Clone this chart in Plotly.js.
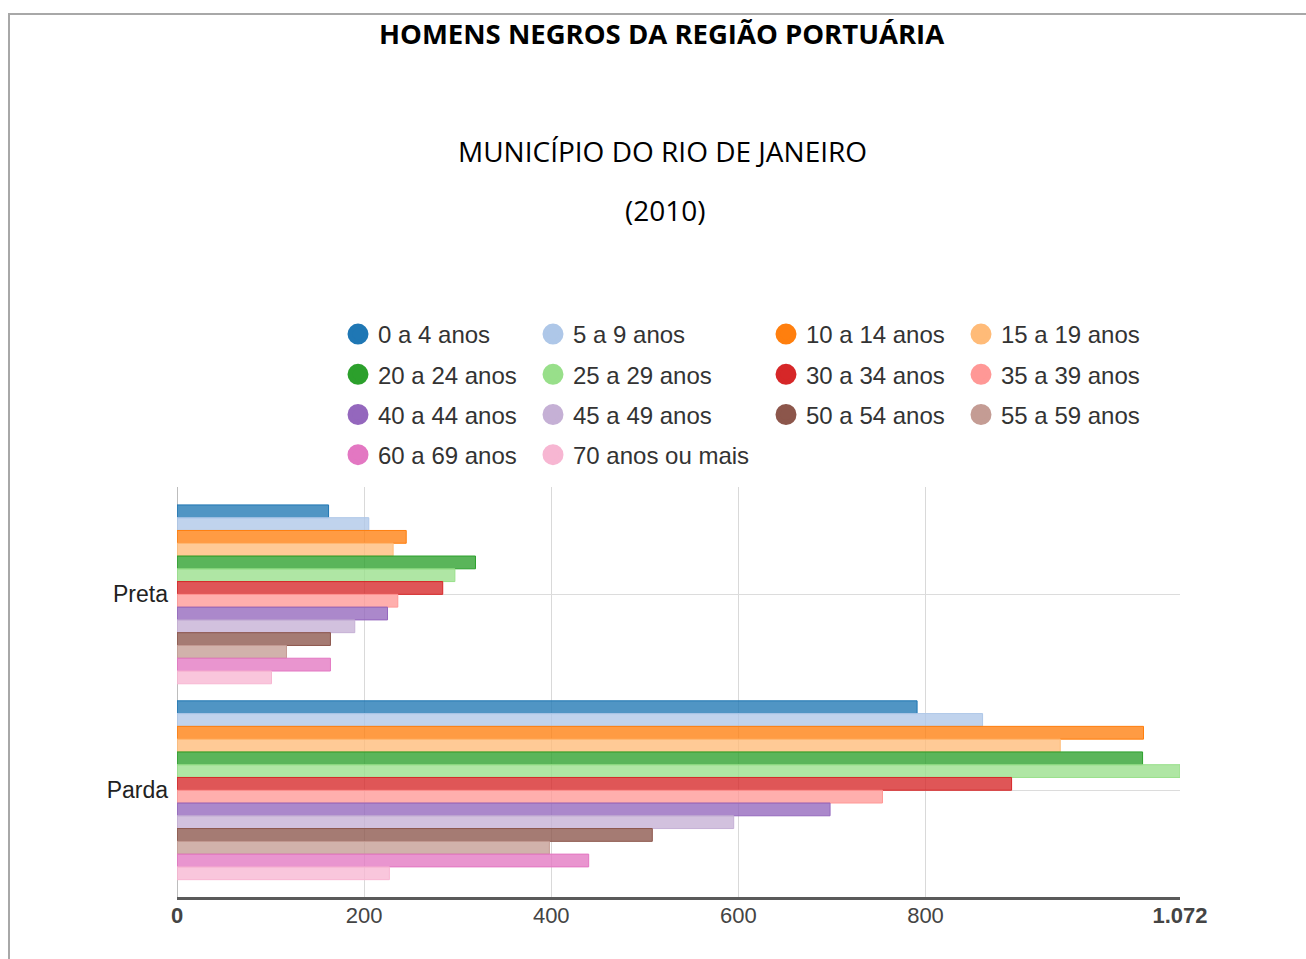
<!DOCTYPE html>
<html>
<head>
<meta charset="utf-8">
<script src="https://cdn.plot.ly/plotly-3.0.1.min.js"></script>
<style>
  html, body { margin: 0; padding: 0; background: #fff; }
  #chart { width: 1306px; height: 959px; }
  #frame { position: absolute; left: 8px; top: 13px; right: 0; bottom: 0;
           border-top: 2px solid #a8a8a8; border-left: 2px solid #a8a8a8; pointer-events: none; }
</style>
</head>
<body>
<div id="chart"></div>
<div id="frame"></div>
<script>
// ---- data ----
const categories = ['Preta', 'Parda'];
const ageGroups = ['0 a 4 anos', '5 a 9 anos', '10 a 14 anos', '15 a 19 anos',
  '20 a 24 anos', '25 a 29 anos', '30 a 34 anos', '35 a 39 anos',
  '40 a 44 anos', '45 a 49 anos', '50 a 54 anos', '55 a 59 anos',
  '60 a 69 anos', '70 anos ou mais'];
const pretaValues = [162, 205, 245, 231, 319, 297, 284, 236, 225, 190, 164, 117, 164, 101];
const pardaValues = [791, 861, 1033, 944, 1032, 1072, 892, 754, 698, 595, 508, 398, 440, 227];
const seriesColors = ['#1f77b4', '#aec7e8', '#ff7f0e', '#ffbb78', '#2ca02c', '#98df8a',
  '#d62728', '#ff9896', '#9467bd', '#c5b0d5', '#8c564b', '#c49c94', '#e377c2', '#f7b6d2'];
const tickValues = [0, 200, 400, 600, 800, 1072];
const tickLabels = ['<b>0</b>', '200', '400', '600', '800', '<b>1.072</b>'];
const titleMain = 'HOMENS NEGROS DA REGIÃO PORTUÁRIA';
const titleSub1 = 'MUNICÍPIO DO RIO DE JANEIRO';
const titleSub2 = '(2010)';

function rgba(hex, a) {
  const r = parseInt(hex.slice(1, 3), 16), g = parseInt(hex.slice(3, 5), 16), b = parseInt(hex.slice(5, 7), 16);
  return 'rgba(' + r + ',' + g + ',' + b + ',' + a + ')';
}

const legendIds = ['legend', 'legend2', 'legend3', 'legend4'];
const traces = [];
ageGroups.forEach((name, i) => {
  traces.push({
    type: 'bar', orientation: 'h', name: name,
    y: categories, x: [pretaValues[i], pardaValues[i]],
    marker: { color: rgba(seriesColors[i], 0.78), line: { color: seriesColors[i], width: 1 } },
    showlegend: false, legendgroup: 'g' + i, hoverinfo: 'x+name'
  });
});
ageGroups.forEach((name, i) => {
  traces.push({
    type: 'scatter', mode: 'markers', name: name,
    x: [null], y: [null],
    marker: { color: seriesColors[i], size: 16, symbol: 'circle', line: { color: seriesColors[i], width: 5 } },
    legendgroup: 'g' + i, legend: legendIds[i % 4], showlegend: true, hoverinfo: 'skip'
  });
});

const plotL = 177, plotR = 1180, plotT = 487, plotB = 897;
const pw = plotR - plotL, ph = plotB - plotT;
const px2x = p => (p - plotL) / pw;
const py2y = p => (plotB - p) / ph;

const legendFont = { family: 'Liberation Sans, Arial, sans-serif', size: 24, color: '#333' };
const colTextStart = [378, 573, 806, 1001];
const legends = {};
legendIds.forEach((id, c) => {
  legends[id] = {
    x: px2x(colTextStart[c] - 40), xanchor: 'left',
    y: py2y(312), yanchor: 'top',
    orientation: 'v', traceorder: 'grouped', tracegroupgap: 6,
    bgcolor: 'rgba(0,0,0,0)', borderwidth: 0, font: legendFont, itemwidth: 30
  };
});

const layout = Object.assign({
  width: 1306, height: 959,
  margin: { l: plotL, r: 1306 - plotR, t: plotT, b: 959 - plotB, pad: 0 },
  paper_bgcolor: '#fff', plot_bgcolor: '#fff',
  barmode: 'group', bargap: 0.087, bargroupgap: 0,
  showlegend: true,
  xaxis: {
    range: [0, 1072], tickvals: tickValues, ticktext: tickLabels,
    showgrid: true, gridcolor: '#d9d9d9', gridwidth: 1,
    zeroline: true, zerolinecolor: '#bdbdbd', zerolinewidth: 1,
    showline: true, linecolor: '#5a5a5a', linewidth: 3,
    ticks: '', ticklabelstandoff: -3,
    tickfont: { family: 'Liberation Sans, Arial, sans-serif', size: 22, color: '#444' },
    fixedrange: true
  },
  yaxis: {
    type: 'category', categoryorder: 'array', categoryarray: categories,
    range: [1.545, -0.548],
    showgrid: true, gridcolor: '#dcdcdc', gridwidth: 1,
    showline: false, zeroline: false, ticks: '',
    tickfont: { family: 'Liberation Sans, Arial, sans-serif', size: 23, color: '#222' },
    ticklabelstandoff: 8, fixedrange: true
  },
  annotations: [
    { text: '<b>' + titleMain + '</b>', xref: 'paper', yref: 'paper', x: px2x(661), y: py2y(34),
      xanchor: 'center', yanchor: 'middle', showarrow: false,
      font: { family: 'Open Sans, sans-serif', size: 27.5, color: '#000' } },
    { text: titleSub1, xref: 'paper', yref: 'paper', x: px2x(662), y: py2y(151),
      xanchor: 'center', yanchor: 'middle', showarrow: false,
      font: { family: 'Open Sans, sans-serif', size: 28, color: '#000' } },
    { text: titleSub2, xref: 'paper', yref: 'paper', x: px2x(665), y: py2y(210),
      xanchor: 'center', yanchor: 'middle', showarrow: false,
      font: { family: 'Open Sans, sans-serif', size: 28, color: '#000' } }
  ]
}, legends);

Plotly.newPlot('chart', traces, layout, { displayModeBar: false, staticPlot: false });
</script>
</body>
</html>
